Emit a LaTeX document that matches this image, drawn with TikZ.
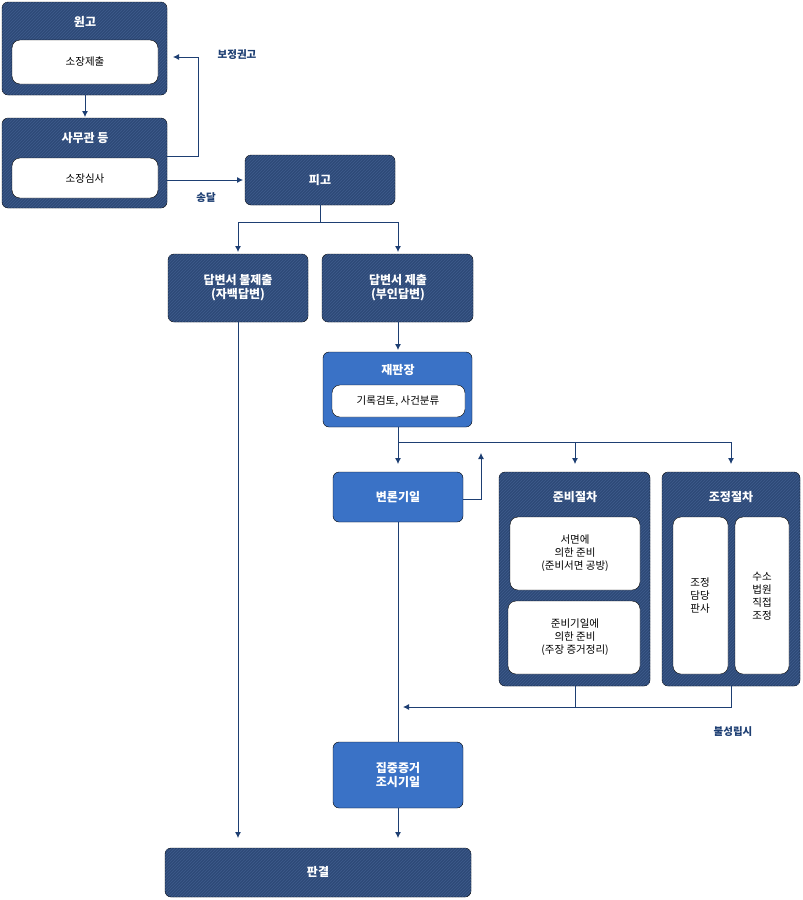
\documentclass[tikz,border=0pt]{standalone}
\usepackage{fontspec}
\setmainfont{Noto Sans CJK KR}
\usetikzlibrary{patterns,arrows.meta}
\definecolor{dk}{HTML}{2E4A78}
\definecolor{dkl}{HTML}{3F5C8C}
\definecolor{lb}{HTML}{3A72C6}
\definecolor{ln}{HTML}{1E3F73}
\begin{document}
\begin{tikzpicture}[x=1pt,y=-1pt,
  dark/.style={fill=dk,rounded corners=6pt,postaction={pattern=north east lines,pattern color=dkl}},
  light/.style={fill=lb,rounded corners=6pt},
  wb/.style={fill=white,rounded corners=8pt},
  tt/.style={text=white,font=\bfseries\fontsize{12}{14}\selectfont,align=center},
  it/.style={text=black,font=\fontsize{10.5}{13}\selectfont,align=center},
  lb2/.style={text=ln,font=\bfseries\fontsize{10.5}{13}\selectfont},
  ar/.style={draw=ln,line width=0.8pt,-{Latex[length=6pt,width=6pt]}},
  l/.style={draw=ln,line width=0.8pt}]
\useasboundingbox (0,0) rectangle (803,900);
% boxes
\draw[dark] (2,2) rectangle (167,95); \node[tt] (a) at (85,22) {원고};
\draw[wb] (12,40) rectangle (158,84); \node[it] (a1) at (85,62) {소장제출};
\draw[dark] (2,118) rectangle (167,208); \node[tt] (b) at (85,138) {사무관 등};
\draw[wb] (12,158) rectangle (158,198); \node[it] (b1) at (85,179) {소장심사};
\draw[dark] (245,155) rectangle (395,205); \node[tt] (p) at (320,180) {피고};
\draw[dark] (168,254) rectangle (308,322); \node[tt] (n1) at (238,288) {답변서 불제출\\(자백답변)};
\draw[dark] (322,254) rectangle (473,322); \node[tt] (n2) at (398,288) {답변서 제출\\(부인답변)};
\draw[light] (323,352) rectangle (472,427); \node[tt] (j) at (398,370) {재판장};
\draw[wb] (332,385) rectangle (465,417); \node[it] (j1) at (398,401) {기록검토, 사건분류};
\draw[light] (333,472) rectangle (463,522); \node[tt] (v) at (398,497) {변론기일};
\draw[dark] (499,472) rectangle (650,686); \node[tt] (r) at (575,497) {준비절차};
\draw[wb] (510,517) rectangle (640,590); \node[it] (r1) at (575,553) {서면에\\의한 준비\\(준비서면 공방)};
\draw[wb] (508,601) rectangle (640,674); \node[it] (r2) at (575,637) {준비기일에\\의한 준비\\(주장 증거정리)};
\draw[dark] (662,472) rectangle (800,686); \node[tt] (m) at (731,497) {조정절차};
\draw[wb] (673,517) rectangle (728,674); \node[it] (m1) at (700,596) {조정\\담당\\판사};
\draw[wb] (735,517) rectangle (789,674); \node[it] (m2) at (762,596) {수소\\법원\\직접\\조정};
\draw[light] (333,742) rectangle (463,808); \node[tt] (z) at (398,775) {집중증거\\조시기일};
\draw[dark] (165,848) rectangle (471,897); \node[tt] (f) at (318,872) {판결};
% labels
\node[lb2] (t1) at (237,55) {보정권고};
\node[lb2] (t2) at (206,198) {송달};
\node[lb2] (t3) at (733,732) {불성립시};
% connectors
\draw[ar] (85,95) -- (85,117);
\draw[ar] (167,156) -| (198,57) -- (173,57);
\draw[ar] (167,180) -- (243,180);
\draw[l] (320,205) -- (320,222);
\draw[l] (238,222) -- (398,222);
\draw[ar] (238,222) -- (238,252);
\draw[ar] (398,222) -- (398,252);
\draw[ar] (398,322) -- (398,350);
\draw[l] (398,427) -- (398,442) -- (731,442);
\draw[ar] (398,442) -- (398,464);
\draw[ar] (575,442) -- (575,464);
\draw[ar] (731,442) -- (731,464);
\draw[ar] (463,499) -| (481,453);
\draw[l] (575,686) -- (575,707);
\draw[ar] (731,686) -- (731,707) -- (403,707);
\draw[l] (398,522) -- (398,742);
\draw[ar] (398,808) -- (398,838);
\draw[ar] (238,322) -- (238,838);
\end{tikzpicture}
\end{document}
